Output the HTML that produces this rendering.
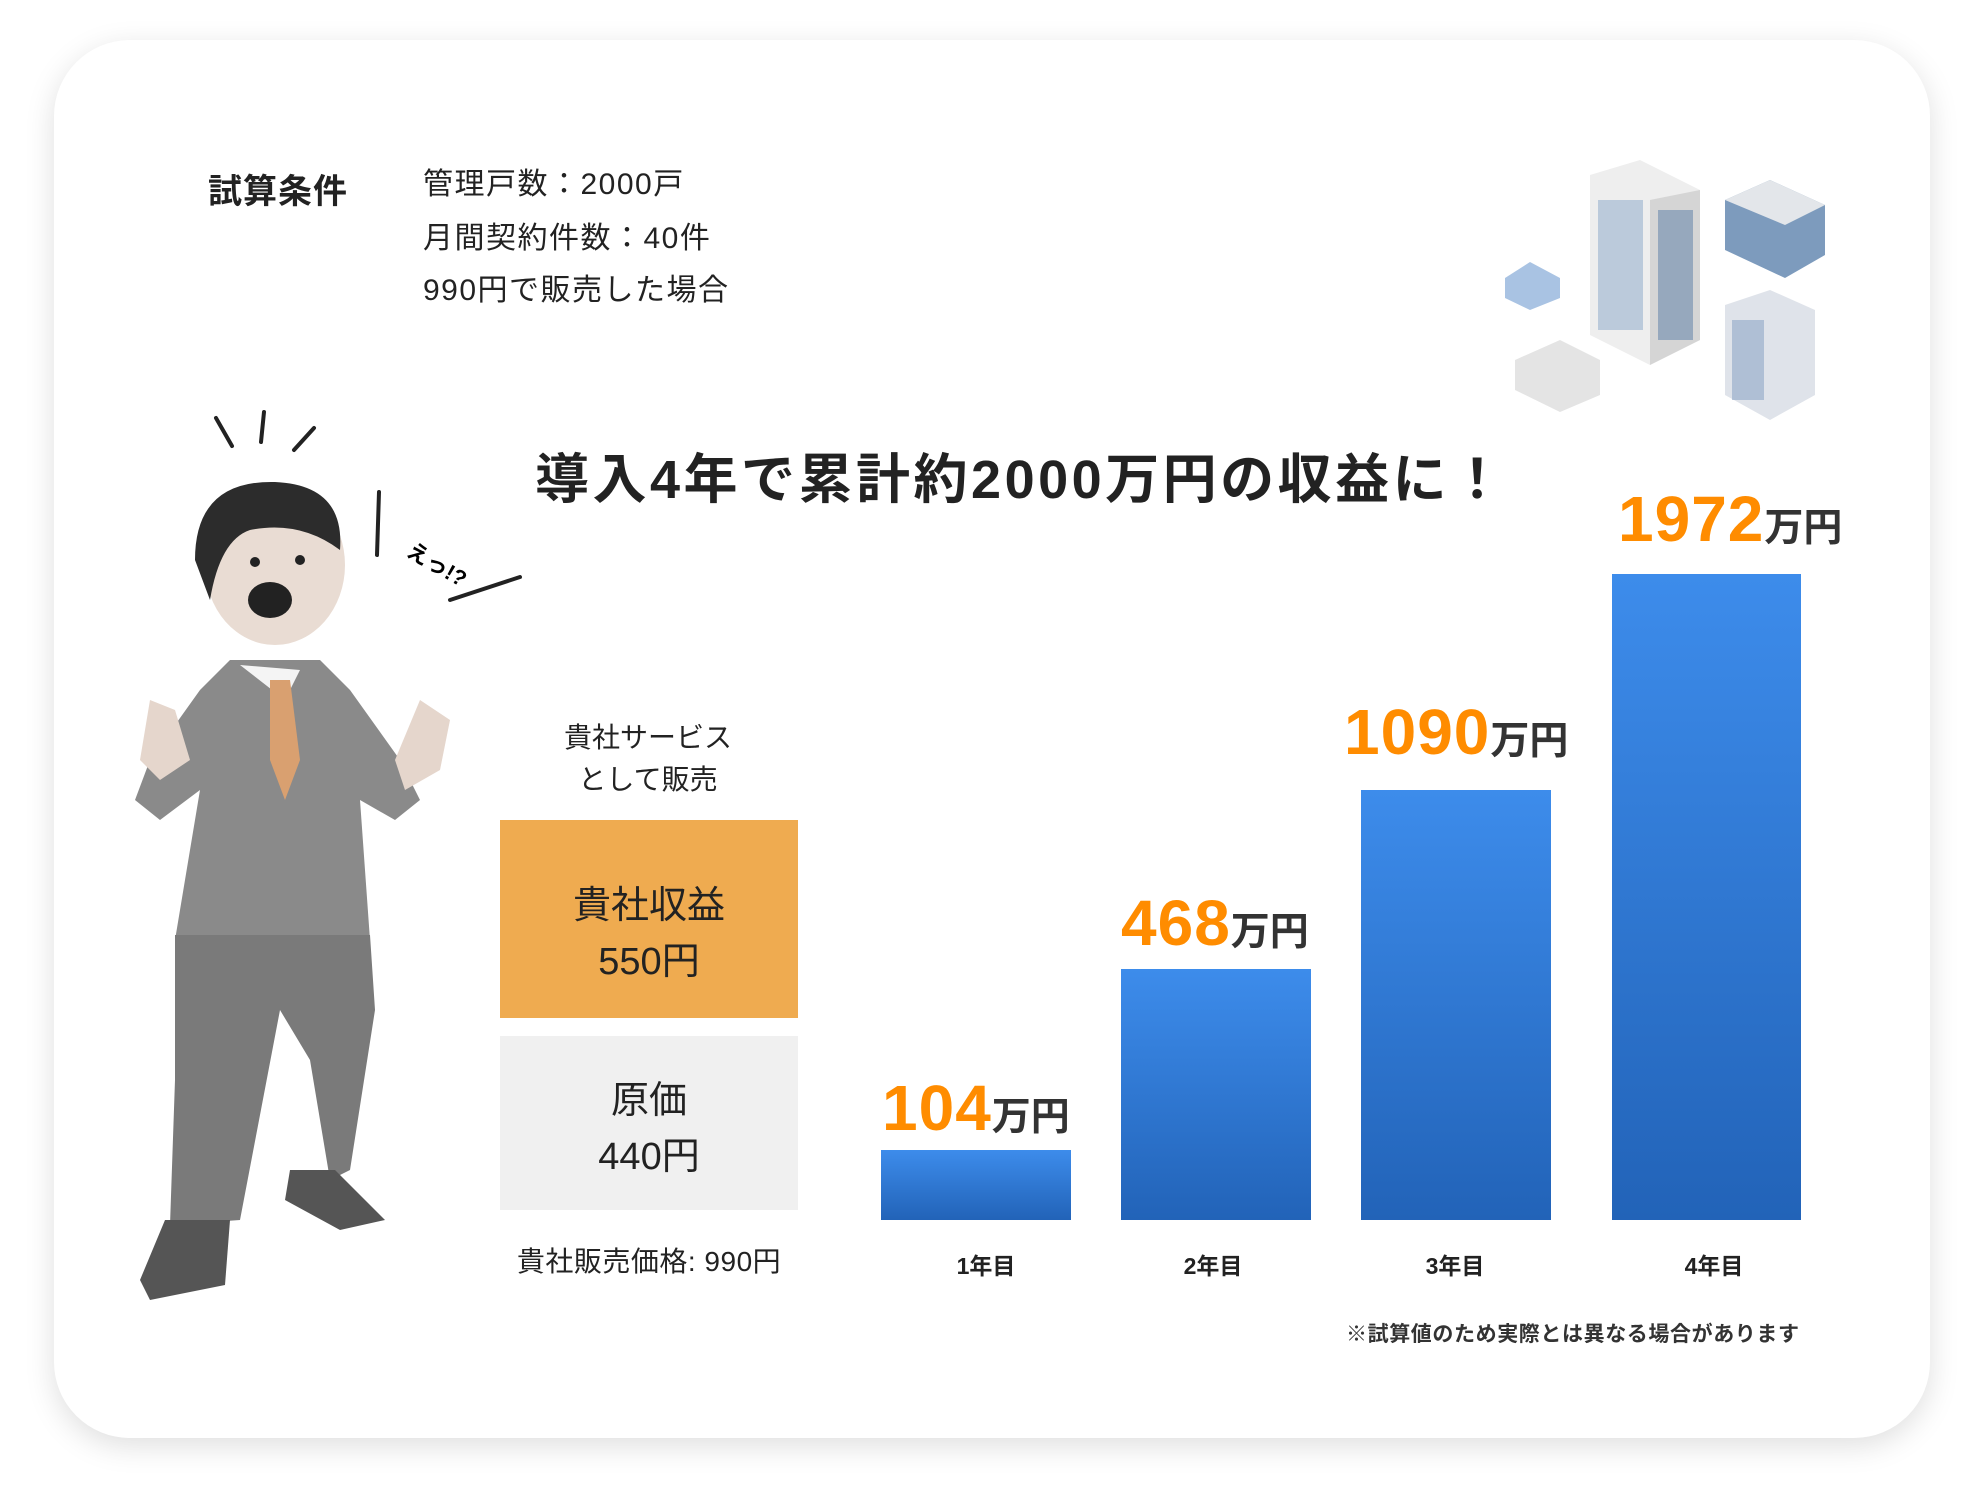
<!DOCTYPE html>
<html><head><meta charset="utf-8"><style>
body{margin:0;width:1982px;height:1504px;background:#fff;position:relative;overflow:hidden;font-family:"Liberation Sans","Noto Sans CJK JP",sans-serif;color:#222}
.card{position:absolute;left:54px;top:40px;width:1876px;height:1398px;background:#fff;border-radius:76px;box-shadow:0 8px 30px rgba(0,0,0,.13)}
.t{position:absolute;white-space:nowrap;line-height:1}
.bar{position:absolute;background:linear-gradient(#3d8ceb,#2263b8)}
.num{color:#ff8c00;font-weight:bold;font-size:64px;letter-spacing:1px}
.un{color:#333;font-weight:bold;font-size:39px}
.yr{font-weight:bold;font-size:23px;transform:translateX(-50%)}
</style></head><body>
<div class="card"></div>
<div class="t" style="left:208px;top:175px;font-size:34px;font-weight:bold;letter-spacing:1px">試算条件</div>
<div class="t" style="left:423px;top:170px;font-size:30px;letter-spacing:1.5px">管理戸数：2000戸</div>
<div class="t" style="left:423px;top:224px;font-size:30px;letter-spacing:1.5px">月間契約件数：40件</div>
<div class="t" style="left:423px;top:276px;font-size:30px;letter-spacing:1.5px">990円で販売した場合</div>
<div class="t" style="left:535px;top:453px;font-size:54px;font-weight:bold;letter-spacing:3.5px">導入4年で累計約2000万円の収益に！</div>
<div class="t" style="left:648px;top:717px;font-size:28px;transform:translateX(-50%);text-align:center;line-height:42px">貴社サービス<br>として販売</div>
<div style="position:absolute;left:500px;top:820px;width:298px;height:198px;background:#efab50"></div>
<div class="t" style="left:649px;top:878px;font-size:38px;transform:translateX(-50%);text-align:center;line-height:56px">貴社収益<br>550円</div>
<div style="position:absolute;left:500px;top:1036px;width:298px;height:174px;background:#f0f0f0"></div>
<div class="t" style="left:649px;top:1073px;font-size:38px;transform:translateX(-50%);text-align:center;line-height:56px">原価<br>440円</div>
<div class="t" style="left:649px;top:1248px;font-size:28px;transform:translateX(-50%);letter-spacing:0.5px">貴社販売価格: 990円</div>
<div class="bar" style="left:881px;top:1150px;width:190px;height:70px"></div>
<div class="bar" style="left:1121px;top:969px;width:190px;height:251px"></div>
<div class="bar" style="left:1361px;top:790px;width:190px;height:430px"></div>
<div class="bar" style="left:1612px;top:574px;width:189px;height:646px"></div>
<div class="t" style="left:882px;top:1076px"><span class="num">104</span><span class="un">万円</span></div>
<div class="t" style="left:1121px;top:891px"><span class="num">468</span><span class="un">万円</span></div>
<div class="t" style="left:1344px;top:700px"><span class="num">1090</span><span class="un">万円</span></div>
<div class="t" style="left:1618px;top:487px"><span class="num">1972</span><span class="un">万円</span></div>
<div class="t yr" style="left:986px;top:1255px">1年目</div>
<div class="t yr" style="left:1213px;top:1255px">2年目</div>
<div class="t yr" style="left:1455px;top:1255px">3年目</div>
<div class="t yr" style="left:1714px;top:1255px">4年目</div>
<div class="t" style="left:1346px;top:1324px;font-size:21px;font-weight:bold;color:#333;letter-spacing:0.6px">※試算値のため実際とは異なる場合があります</div>
<svg style="position:absolute;left:0;top:0" width="1982" height="1504">
<g stroke="#222" stroke-width="4" stroke-linecap="round">
<line x1="216" y1="418" x2="232" y2="446"/><line x1="264" y1="412" x2="261" y2="442"/><line x1="314" y1="428" x2="294" y2="450"/>
<line x1="379" y1="492" x2="377" y2="555"/><line x1="450" y1="600" x2="520" y2="577"/></g>
<text x="405" y="555" font-size="22" font-weight="bold" transform="rotate(30 405 555)" font-family="Liberation Sans,Noto Sans CJK JP,sans-serif">えっ!?</text>
<g>
<path d="M230 660 L200 690 L150 760 L135 800 L160 820 L200 790 L175 940 L250 945 L330 950 L370 940 L360 800 L395 820 L420 800 L400 760 L350 690 L320 660 Z" fill="#8a8a8a"/>
<path d="M175 935 L370 935 L375 1010 L350 1170 L330 1180 L310 1060 L280 1010 L240 1220 L170 1225 L175 1080 Z" fill="#7a7a7a"/>
<path d="M165 1220 L230 1220 L225 1285 L150 1300 L140 1280 Z" fill="#555"/>
<path d="M290 1170 L335 1170 L385 1220 L340 1230 L285 1200 Z" fill="#555"/>
<path d="M240 665 L285 700 L300 670 Z" fill="#f4f4f4"/>
<path d="M270 680 L290 680 L300 760 L285 800 L270 760 Z" fill="#d9a070"/>
<ellipse cx="275" cy="565" rx="70" ry="80" fill="#e9dcd3"/>
<path d="M195 560 Q195 480 275 482 Q345 485 340 550 Q300 520 250 530 Q220 540 210 600 Z" fill="#2c2c2c"/>
<ellipse cx="270" cy="600" rx="22" ry="18" fill="#222"/>
<circle cx="255" cy="562" r="5" fill="#222"/><circle cx="300" cy="560" r="5" fill="#222"/>
<path d="M150 700 L175 710 L190 760 L160 780 L140 760 Z" fill="#e5d6cc"/>
<path d="M420 700 L450 720 L440 770 L405 790 L395 760 Z" fill="#e5d6cc"/>
</g>
<g>
<path d="M1590 175 L1640 160 L1700 190 L1700 340 L1650 365 L1590 335 Z" fill="#eeeeee"/>
<path d="M1650 200 L1700 190 L1700 340 L1650 365 Z" fill="#d5d5d5"/>
<rect x="1598" y="200" width="45" height="130" fill="#9ab3cf" opacity=".6"/>
<rect x="1658" y="210" width="35" height="130" fill="#6c8aad" opacity=".6"/>
<path d="M1725 200 L1770 180 L1825 205 L1825 255 L1785 278 L1725 250 Z" fill="#7d9bbd"/>
<path d="M1725 200 L1770 180 L1825 205 L1785 225 Z" fill="#e3e6ea"/>
<path d="M1725 305 L1770 290 L1815 310 L1815 395 L1770 420 L1725 395 Z" fill="#dfe3ea"/>
<rect x="1732" y="320" width="32" height="80" fill="#8fa6c6" opacity=".6"/>
<path d="M1515 360 L1560 340 L1600 360 L1600 395 L1560 412 L1515 390 Z" fill="#e4e4e4"/>
<path d="M1505 278 L1530 262 L1560 278 L1560 298 L1530 310 L1505 298 Z" fill="#a9c3e3"/>
</g>
</svg>
</body></html>
